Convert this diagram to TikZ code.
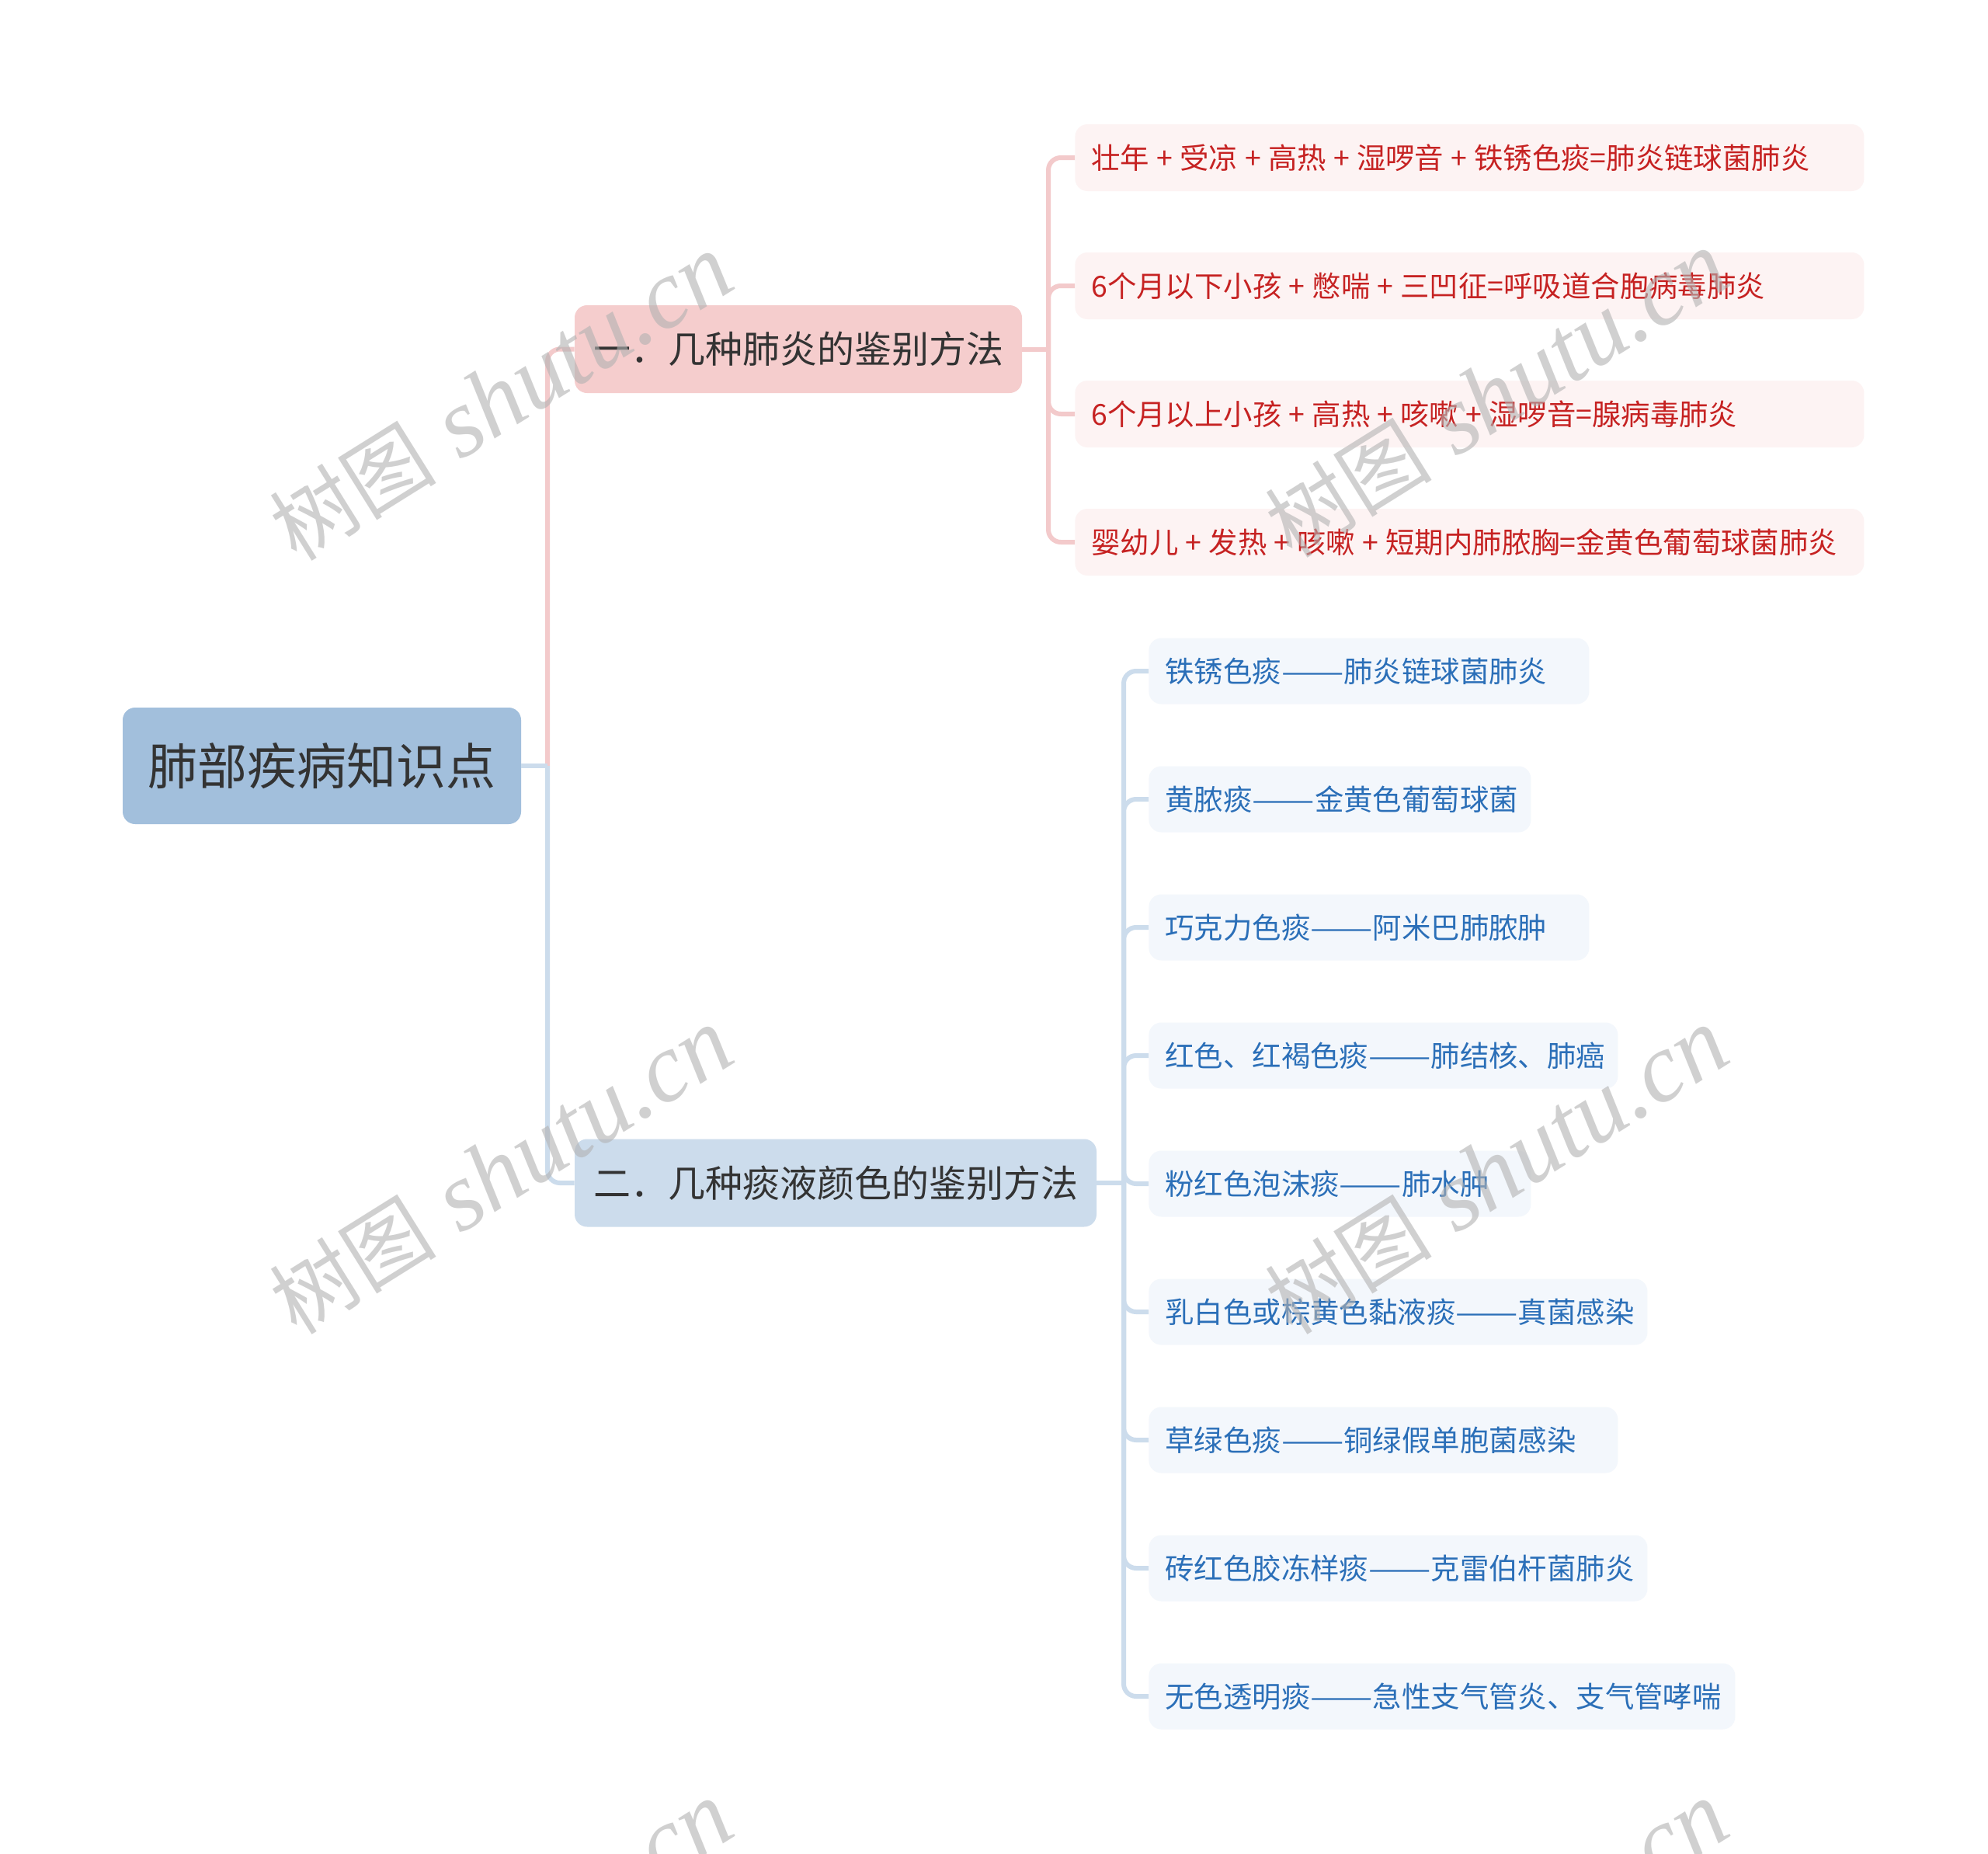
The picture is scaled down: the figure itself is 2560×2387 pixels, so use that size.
\documentclass[tikz,border=0pt]{standalone}
\usepackage{fontspec}
\usepackage{graphicx}
\setmainfont{Noto Sans CJK SC}
\newfontfamily\wmlatin{Liberation Serif}
\definecolor{rootfill}{HTML}{A2BFDC}
\definecolor{bonefill}{HTML}{F5CDCD}
\definecolor{btwofill}{HTML}{CCDCEC}
\definecolor{pinkline}{HTML}{F3CACB}
\definecolor{blueline}{HTML}{CCDCEC}
\definecolor{redfill}{HTML}{FDF3F3}
\definecolor{redtext}{HTML}{C62222}
\definecolor{bluefill}{HTML}{F3F7FC}
\definecolor{bluetext}{HTML}{2B6FB8}
\definecolor{darktext}{HTML}{333333}
\newcommand{\pl}{\kern0.245em+\kern0.245em}
\newcommand{\dd}{\resizebox{2.15em}{\height}{——}}
\tikzset{
  rootbox/.style={fill=rootfill, rounded corners=8pt, minimum width=256.5pt, minimum height=75pt, inner sep=0pt, text=darktext, font=\fontsize{32}{32}\selectfont},
  branchbox/.style={rounded corners=8pt, minimum height=56.5pt, inner sep=0pt, text=darktext, font=\fontsize{24}{24}\selectfont},
  redleaf/.style={fill=redfill, rounded corners=8pt, minimum height=43pt, text width=487pt, inner xsep=10.5pt, inner ysep=0pt, align=left, anchor=west, text=redtext, font=\fontsize{18.7}{18.7}\selectfont},
  blueleaf/.style={fill=bluefill, rounded corners=8pt, minimum height=42.5pt, text width=#1, inner xsep=10.5pt, inner ysep=0pt, align=left, anchor=west, text=bluetext, font=\fontsize{18.7}{18.7}\selectfont},
  pline/.style={draw=pinkline, line width=3pt, rounded corners=8pt},
  bline/.style={draw=blueline, line width=3pt, rounded corners=8pt},
  wm/.style={rotate=32, text=black!30, text opacity=0.6, inner sep=0pt}
}
\begin{document}
\begin{tikzpicture}[x=0.5pt,y=-0.5pt]
\useasboundingbox (0,0) rectangle (2560,2387);
\fill[white] (0,0) rectangle (2560,2387);

% main nodes
\node[rootbox] (root) at (414.5,986) {肺部疾病知识点};
\node[branchbox, fill=bonefill, minimum width=288pt] (b1) at (1028,449.5) {一．几种肺炎的鉴别方法};
\node[branchbox, fill=btwofill, minimum width=336pt] (b2) at (1076,1523) {二．几种痰液颜色的鉴别方法};

% red leaves
\node[redleaf] (r1) at (1384,203) {壮年\pl 受凉\pl 高热\pl 湿啰音\pl 铁锈色痰=肺炎链球菌肺炎};
\node[redleaf] (r2) at (1384,368) {6个月以下小孩\pl 憋喘\pl 三凹征=呼吸道合胞病毒肺炎};
\node[redleaf] (r3) at (1384,533) {6个月以上小孩\pl 高热\pl 咳嗽\pl 湿啰音=腺病毒肺炎};
\node[redleaf] (r4) at (1384,698) {婴幼儿\pl 发热\pl 咳嗽\pl 短期内肺脓胸=金黄色葡萄球菌肺炎};

% blue leaves
\node[blueleaf=262.5pt] (s1) at (1479,864) {铁锈色痰\dd 肺炎链球菌肺炎};
\node[blueleaf=225pt] (s2) at (1479,1029) {黄脓痰\dd 金黄色葡萄球菌};
\node[blueleaf=262.5pt] (s3) at (1479,1194) {巧克力色痰\dd 阿米巴肺脓肿};
\node[blueleaf=281pt] (s4) at (1479,1359) {红色、红褐色痰\dd 肺结核、肺癌};
\node[blueleaf=225pt] (s5) at (1479,1524) {粉红色泡沫痰\dd 肺水肿};
\node[blueleaf=300pt] (s6) at (1479,1689) {乳白色或棕黄色黏液痰\dd 真菌感染};
\node[blueleaf=281pt] (s7) at (1479,1854) {草绿色痰\dd 铜绿假单胞菌感染};
\node[blueleaf=300pt] (s8) at (1479,2019) {砖红色胶冻样痰\dd 克雷伯杆菌肺炎};
\node[blueleaf=356.5pt] (s9) at (1479,2184) {无色透明痰\dd 急性支气管炎、支气管哮喘};

% junctions
\coordinate (j0) at (705,986);
\coordinate (j1) at (1350,449.5);
\coordinate (j2) at (1447,1523);

% connectors
\draw[pline] (j0) |- (b1.west);
\draw[bline] (j0) |- (b2.west);
\draw[bline] (root.east) -- (j0);

\draw[pline] (b1.east) -- (j1);
\foreach \n in {r1,r2,r3,r4} \draw[pline] (j1) |- (\n.west);

\draw[bline] (b2.east) -- (j2);
\foreach \n in {s1,s2,s3,s4,s5,s6,s7,s8,s9} \draw[bline] (j2) |- (\n.west);

% watermarks
\foreach \p [count=\i] in {(645,512),(1927,508),(645,1508),(1927,1508),(645,2504),(1927,2504)}
  \node[wm] (wm\i) at \p {{\fontsize{54}{54}\selectfont 树图}\kern16pt{\fontsize{63}{63}\selectfont\wmlatin\itshape shutu.cn}};
\end{tikzpicture}
\end{document}
